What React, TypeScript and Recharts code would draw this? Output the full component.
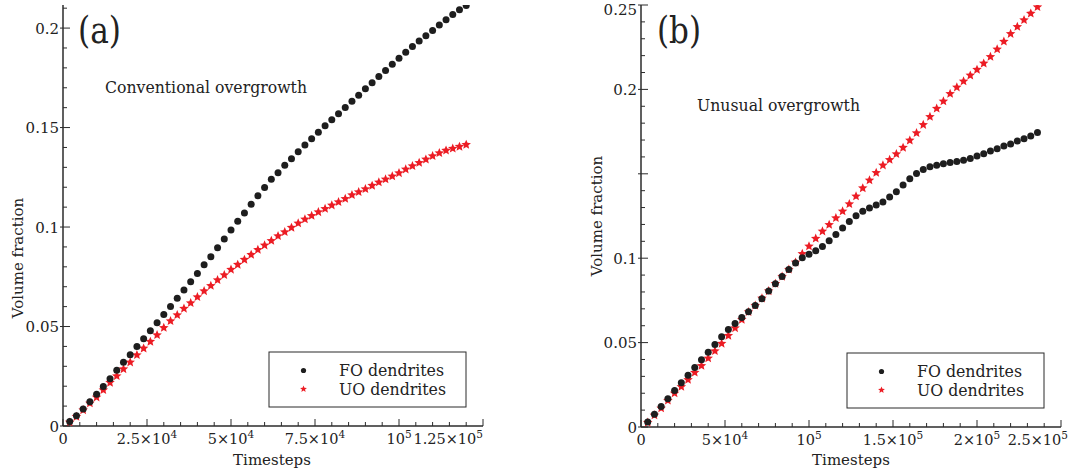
import React from "react";
import { ScatterChart, Scatter, XAxis, YAxis } from "recharts";

const FONT = "'DejaVu Serif', serif";
const AXIS = "#2b2b2b";
const BLACK = "#1e1e1e";
const RED = "#ec1c24";
const TXT = "#222222";

// ---------- Panel (a): conventional overgrowth ----------
const timestepsA = [
  2000, 4000, 6000, 8000, 10000, 12000, 14000, 16000, 18000, 20000,
  22000, 24000, 26000, 28000, 30000, 32000, 34000, 36000, 38000, 40000,
  42000, 44000, 46000, 48000, 50000, 52000, 54000, 56000, 58000, 60000,
  62000, 64000, 66000, 68000, 70000, 72000, 74000, 76000, 78000, 80000,
  82000, 84000, 86000, 88000, 90000, 92000, 94000, 96000, 98000, 100000,
  102000, 104000, 106000, 108000, 110000, 112000, 114000, 116000, 118000, 120000,
];
const foA = [
  0.0022, 0.0052, 0.0085, 0.0122, 0.0159, 0.0199, 0.0238, 0.028, 0.032, 0.0358,
  0.0399, 0.0439, 0.0479, 0.0519, 0.056, 0.0601, 0.0642, 0.0683, 0.0725, 0.0767,
  0.0811, 0.0851, 0.0896, 0.094, 0.0985, 0.1029, 0.107, 0.1114, 0.1157, 0.1199,
  0.124, 0.1273, 0.131, 0.1343, 0.1378, 0.1412, 0.1444, 0.1477, 0.1509, 0.1539,
  0.1569, 0.1601, 0.1632, 0.1663, 0.1695, 0.1725, 0.1757, 0.1787, 0.1818, 0.1848,
  0.1878, 0.1908, 0.1935, 0.1961, 0.1988, 0.2015, 0.2042, 0.2068, 0.2092, 0.2114,
];
const uoA = [
  0.0018, 0.0047, 0.008, 0.0114, 0.0144, 0.0181, 0.0218, 0.0251, 0.0286, 0.032,
  0.0357, 0.039, 0.0424, 0.0457, 0.0494, 0.0528, 0.0558, 0.059, 0.0618, 0.0648,
  0.0678, 0.0705, 0.0734, 0.0759, 0.0786, 0.0811, 0.0836, 0.0861, 0.0886, 0.0908,
  0.0931, 0.0955, 0.0975, 0.0997, 0.1019, 0.1039, 0.1057, 0.1075, 0.1092, 0.1109,
  0.1126, 0.1142, 0.1161, 0.1176, 0.1191, 0.1208, 0.1225, 0.124, 0.1255, 0.1271,
  0.129, 0.1307, 0.1323, 0.134, 0.1357, 0.1372, 0.1385, 0.1395, 0.1404, 0.1414,
];
const xTicksA = [0, 25000, 50000, 75000, 100000, 125000];
const xTickLabelsA = ["0", "2.5×10^4", "5×10^4", "7.5×10^4", "10^5", "1.25×10^5"];
const yTicksA = [0, 0.05, 0.1, 0.15, 0.2];
const yTickLabelsA = ["0", "0.05", "0.1", "0.15", "0.2"];

// ---------- Panel (b): unusual overgrowth ----------
const timestepsB = [
  4000, 8000, 12000, 16000, 20000, 24000, 28000, 32000, 36000, 40000,
  44000, 48000, 52000, 56000, 60000, 64000, 68000, 72000, 76000, 80000,
  84000, 88000, 92000, 96000, 100000, 104000, 108000, 112000, 116000, 120000,
  124000, 128000, 132000, 136000, 140000, 144000, 148000, 152000, 156000, 160000,
  164000, 168000, 172000, 176000, 180000, 184000, 188000, 192000, 196000, 200000,
  204000, 208000, 212000, 216000, 220000, 224000, 228000, 232000, 236000,
];
const foB = [
  0.003, 0.0075, 0.0121, 0.0167, 0.0216, 0.0262, 0.0307, 0.0353, 0.0399, 0.0443,
  0.0489, 0.0534, 0.0577, 0.0613, 0.0648, 0.0683, 0.072, 0.076, 0.0805, 0.0849,
  0.0891, 0.0933, 0.0972, 0.1002, 0.1024, 0.1044, 0.107, 0.1103, 0.1141, 0.1179,
  0.1218, 0.1252, 0.1278, 0.1298, 0.1315, 0.1333, 0.1363, 0.1393, 0.1433, 0.147,
  0.1502, 0.1526, 0.1542, 0.155, 0.156, 0.1567, 0.1573, 0.1581, 0.1591, 0.1605,
  0.1619, 0.1635, 0.1649, 0.1665, 0.1677, 0.1695, 0.1708, 0.1724, 0.1744,
];
const uoB = [
  0.0026, 0.007, 0.0111, 0.0157, 0.02, 0.0238, 0.028, 0.0323, 0.0363, 0.0407,
  0.045, 0.0494, 0.0541, 0.0586, 0.0636, 0.0681, 0.072, 0.0762, 0.0805, 0.0849,
  0.0891, 0.0933, 0.0975, 0.1026, 0.1071, 0.1117, 0.1159, 0.1198, 0.1238, 0.1278,
  0.1321, 0.1367, 0.1415, 0.1462, 0.1506, 0.155, 0.1583, 0.1617, 0.1655, 0.1698,
  0.1742, 0.179, 0.1838, 0.1887, 0.193, 0.1974, 0.2012, 0.2048, 0.2083, 0.2117,
  0.2154, 0.2193, 0.2238, 0.2284, 0.2329, 0.2371, 0.2411, 0.245, 0.2488,
];
const xTicksB = [0, 50000, 100000, 150000, 200000, 250000];
const xTickLabelsB = ["0", "5×10^4", "10^5", "1.5×10^5", "2×10^5", "2.5×10^5"];
const yTicksB = [0, 0.05, 0.1, 0.15, 0.2, 0.25];
const yTickLabelsB = ["0", "0.05", "0.1", "", "0.2", "0.25"];

const seriesNames = ["FO dendrites", "UO dendrites"];
const panelLabels = ["(a)", "(b)"];
const panelTitles = ["Conventional overgrowth", "Unusual overgrowth"];

function minorTicks(max: number, step: number): number[] {
  const out: number[] = [];
  for (let i = 0; i * step <= max + 1e-9; i++) out.push(Number((i * step).toFixed(6)));
  return out;
}

function findMajor(v: number, majors: number[]) {
  return majors.findIndex((m) => Math.abs(m - v) < 1e-7 * Math.max(1, Math.abs(m)));
}

function SupText({ label, ...rest }: any) {
  const [base, exp] = label.split("^");
  return (
    <text fontFamily={FONT} fontSize={14.5} fill={TXT} {...rest}>
      {base}
      {exp ? (
        <tspan dy={-6} fontSize={10.5}>
          {exp}
        </tspan>
      ) : null}
    </text>
  );
}

function starPath(cx: number, cy: number, R: number) {
  const r = R * 0.45;
  let d = "";
  for (let i = 0; i < 10; i++) {
    const rad = i % 2 === 0 ? R : r;
    const a = -Math.PI / 2 + (i * Math.PI) / 5;
    d += (i === 0 ? "M" : "L") + (cx + rad * Math.cos(a)).toFixed(2) + "," + (cy + rad * Math.sin(a)).toFixed(2);
  }
  return d + "Z";
}

const DotShape = (p: any) => <circle cx={p.cx} cy={p.cy} r={3.5} fill={BLACK} />;
const StarShape = (p: any) => <path d={starPath(p.cx, p.cy, 5)} fill={RED} />;

type PanelProps = {
  left: number;
  width: number;
  marginRight: number;
  yAxisWidth: number;
  xAxisHeight: number;
  xMax: number;
  yMax: number;
  xStep: number;
  yStep: number;
  xMajors: number[];
  xLabels: string[];
  yMajors: number[];
  yLabels: string[];
  lastDx: number;
  xs: number[];
  fo: number[];
  uo: number[];
};

function Panel(props: PanelProps) {
  const { left, width, marginRight, yAxisWidth, xAxisHeight, xMax, yMax, xStep, yStep, xMajors, xLabels, yMajors, yLabels, lastDx, xs, fo, uo } = props;
  const xTicks = minorTicks(xMax, xStep);
  const yTicks = minorTicks(yMax, yStep);
  const foData = xs.map((x, i) => ({ x, y: fo[i] }));
  const uoData = xs.map((x, i) => ({ x, y: uo[i] }));
  const axisLine = { stroke: AXIS, strokeWidth: 1.5 };

  const bottomTick = (t: any) => {
    const idx = findMajor(t.payload.value, xMajors);
    if (idx < 0) return <line x1={t.x} x2={t.x} y1={t.y} y2={t.y - 4} stroke={AXIS} strokeWidth={1} />;
    const last = idx === xMajors.length - 1;
    return (
      <g>
        <line x1={t.x} x2={t.x} y1={t.y} y2={t.y - 7} stroke={AXIS} strokeWidth={1} />
        <SupText label={xLabels[idx]} x={last ? t.x + lastDx : t.x} y={t.y + 18} textAnchor={last ? "end" : "middle"} />
      </g>
    );
  };
  const topTick = (t: any) => {
    const major = findMajor(t.payload.value, xMajors) >= 0;
    return <line x1={t.x} x2={t.x} y1={t.y} y2={t.y + (major ? 7 : 4)} stroke={AXIS} strokeWidth={1} />;
  };
  const leftTick = (t: any) => {
    const idx = findMajor(t.payload.value, yMajors);
    if (idx < 0) return <line x1={t.x} x2={t.x + 4} y1={t.y} y2={t.y} stroke={AXIS} strokeWidth={1} />;
    const isTop = Math.abs(t.payload.value - yMax) < 1e-6;
    return (
      <g>
        <line x1={t.x - 3} x2={t.x + 7} y1={t.y} y2={t.y} stroke={AXIS} strokeWidth={1} />
        <text x={t.x - 4} y={t.y + (isTop ? 10 : 5.5)} textAnchor="end" fontFamily={FONT} fontSize={15} fill={TXT}>
          {yLabels[idx]}
        </text>
      </g>
    );
  };
  const rightTick = (t: any) => {
    const major = findMajor(t.payload.value, yMajors) >= 0;
    return <line x1={t.x} x2={t.x - (major ? 7 : 4)} y1={t.y} y2={t.y} stroke={AXIS} strokeWidth={1} />;
  };

  return (
    <div style={{ position: "absolute", left, top: 0 }}>
      <ScatterChart width={width} height={474} margin={{ top: 5, right: marginRight, bottom: 0, left: 0 }}>
        <XAxis xAxisId="b" dataKey="x" type="number" domain={[0, xMax]} ticks={xTicks} interval={0} tickSize={0} tickMargin={0} tickLine={false} axisLine={axisLine} height={xAxisHeight} tick={bottomTick} allowDataOverflow />
        <XAxis xAxisId="t" orientation="top" type="number" domain={[0, xMax]} ticks={xTicks} interval={0} tickSize={0} tickMargin={0} tickLine={false} axisLine={axisLine} height={0} tick={topTick} allowDataOverflow />
        <YAxis yAxisId="l" dataKey="y" type="number" domain={[0, yMax]} ticks={yTicks} interval={0} tickSize={0} tickMargin={0} tickLine={false} axisLine={axisLine} width={yAxisWidth} tick={leftTick} allowDataOverflow />
        <YAxis yAxisId="r" orientation="right" type="number" domain={[0, yMax]} ticks={yTicks} interval={0} tickSize={0} tickMargin={0} tickLine={false} axisLine={axisLine} width={0} tick={rightTick} allowDataOverflow />
        <Scatter name={seriesNames[1]} xAxisId="b" yAxisId="l" data={uoData} shape={StarShape} isAnimationActive={false} />
        <Scatter name={seriesNames[0]} xAxisId="b" yAxisId="l" data={foData} shape={DotShape} isAnimationActive={false} />
      </ScatterChart>
    </div>
  );
}

function LegendBox({ x, y }: { x: number; y: number }) {
  return (
    <g>
      <rect x={x} y={y} width={197} height={55} fill="#fff" stroke={AXIS} strokeWidth={1} />
      <circle cx={x + 34.5} cy={y + 18.5} r={2.6} fill={BLACK} />
      <path d={starPath(x + 34.5, y + 37, 3.6)} fill={RED} />
      <text x={x + 70} y={y + 24} fontFamily={FONT} fontSize={16} fill={TXT} textLength={105} lengthAdjust="spacingAndGlyphs">
        {seriesNames[0]}
      </text>
      <text x={x + 70} y={y + 43} fontFamily={FONT} fontSize={16} fill={TXT} textLength={107} lengthAdjust="spacingAndGlyphs">
        {seriesNames[1]}
      </text>
    </g>
  );
}

export default function App() {
  return (
    <div style={{ position: "absolute", left: 0, top: 0, width: 1074, height: 474, background: "#fff", overflow: "hidden" }}>
      <Panel left={0} width={540} marginRight={57} yAxisWidth={63} xAxisHeight={48} xMax={125000} yMax={0.2116} xStep={5000} yStep={0.01}
        xMajors={xTicksA} xLabels={xTickLabelsA} yMajors={yTicksA} yLabels={yTickLabelsA} lastDx={0} xs={timestepsA} fo={foA} uo={uoA} />
      <Panel left={580} width={494} marginRight={13} yAxisWidth={61} xAxisHeight={47} xMax={250000} yMax={0.25} xStep={10000} yStep={0.01}
        xMajors={xTicksB} xLabels={xTickLabelsB} yMajors={yTicksB} yLabels={yTickLabelsB} lastDx={7} xs={timestepsB} fo={foB} uo={uoB} />
      <svg width={1074} height={474} style={{ position: "absolute", left: 0, top: 0, pointerEvents: "none" }}>
        <text x={78} y={43} fontFamily={FONT} fontSize={38} fill={TXT} textLength={43} lengthAdjust="spacingAndGlyphs">{panelLabels[0]}</text>
        <text x={657} y={43} fontFamily={FONT} fontSize={38} fill={TXT} textLength={44} lengthAdjust="spacingAndGlyphs">{panelLabels[1]}</text>
        <text x={105} y={93} fontFamily={FONT} fontSize={16} fill={TXT} textLength={202} lengthAdjust="spacingAndGlyphs">{panelTitles[0]}</text>
        <text x={697} y={111} fontFamily={FONT} fontSize={16} fill={TXT} textLength={163} lengthAdjust="spacingAndGlyphs">{panelTitles[1]}</text>
        <LegendBox x={269} y={352} />
        <LegendBox x={847} y={353} />
        <text x={272} y={465} textAnchor="middle" fontFamily={FONT} fontSize={15} fill={TXT}>Timesteps</text>
        <text x={851} y={465} textAnchor="middle" fontFamily={FONT} fontSize={15} fill={TXT}>Timesteps</text>
        <text x={18} y={258} transform="rotate(-90 18 258)" textAnchor="middle" dominantBaseline="central" fontFamily={FONT} fontSize={15} fill={TXT}>Volume fraction</text>
        <text x={597} y={216} transform="rotate(-90 597 216)" textAnchor="middle" dominantBaseline="central" fontFamily={FONT} fontSize={15} fill={TXT}>Volume fraction</text>
      </svg>
    </div>
  );
}
